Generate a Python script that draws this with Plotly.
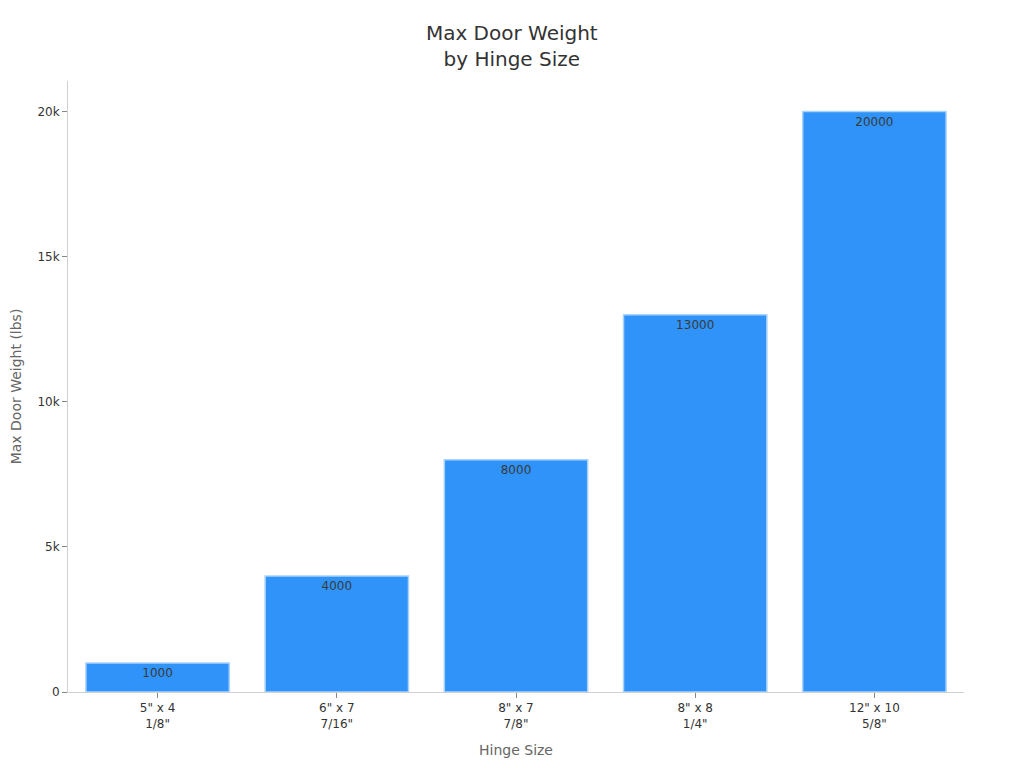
import plotly.graph_objects as go

hinge_sizes = ['5" x 4<br>1/8"', '6" x 7<br>7/16"', '8" x 7<br>7/8"', '8" x 8<br>1/4"', '12" x 10<br>5/8"']
max_weight = [1000, 4000, 8000, 13000, 20000]

fig = go.Figure()
fig.add_trace(go.Bar(
    x=hinge_sizes, y=max_weight,
    text=[str(v) for v in max_weight],
    textposition="inside", insidetextanchor="end",
    textfont=dict(color="#3a3a3a", size=12),
    marker=dict(color="#2f93f9", line=dict(color="#a9d3fc", width=1.5)),
))

fig.update_layout(
    width=1024, height=768,
    font=dict(family="DejaVu Sans", size=12, color="#333"),
    title=dict(text="Max Door Weight<br>by Hinge Size", x=0.492, xanchor="center",
               y=0.958, yanchor="middle", font=dict(size=20, color="#333")),
    plot_bgcolor="white", paper_bgcolor="white",
    margin=dict(l=60, r=68, t=73, b=84),
    bargap=0.2, showlegend=False,
)
fig.update_xaxes(title_text="Hinge Size", title_font=dict(size=14, color="#666"),
                 showline=True, linecolor="#d0d0d0", ticks="outside", ticklen=5,
                 tickcolor="#888", showgrid=False)
fig.update_yaxes(title_text="Max Door Weight (lbs)", title_font=dict(size=14, color="#666"),
                 title_standoff=33,
                 showline=True, linecolor="#d0d0d0", ticks="outside", ticklen=5,
                 tickcolor="#888", showgrid=False, zeroline=False, automargin=False)

fig.write_html("out.html")
